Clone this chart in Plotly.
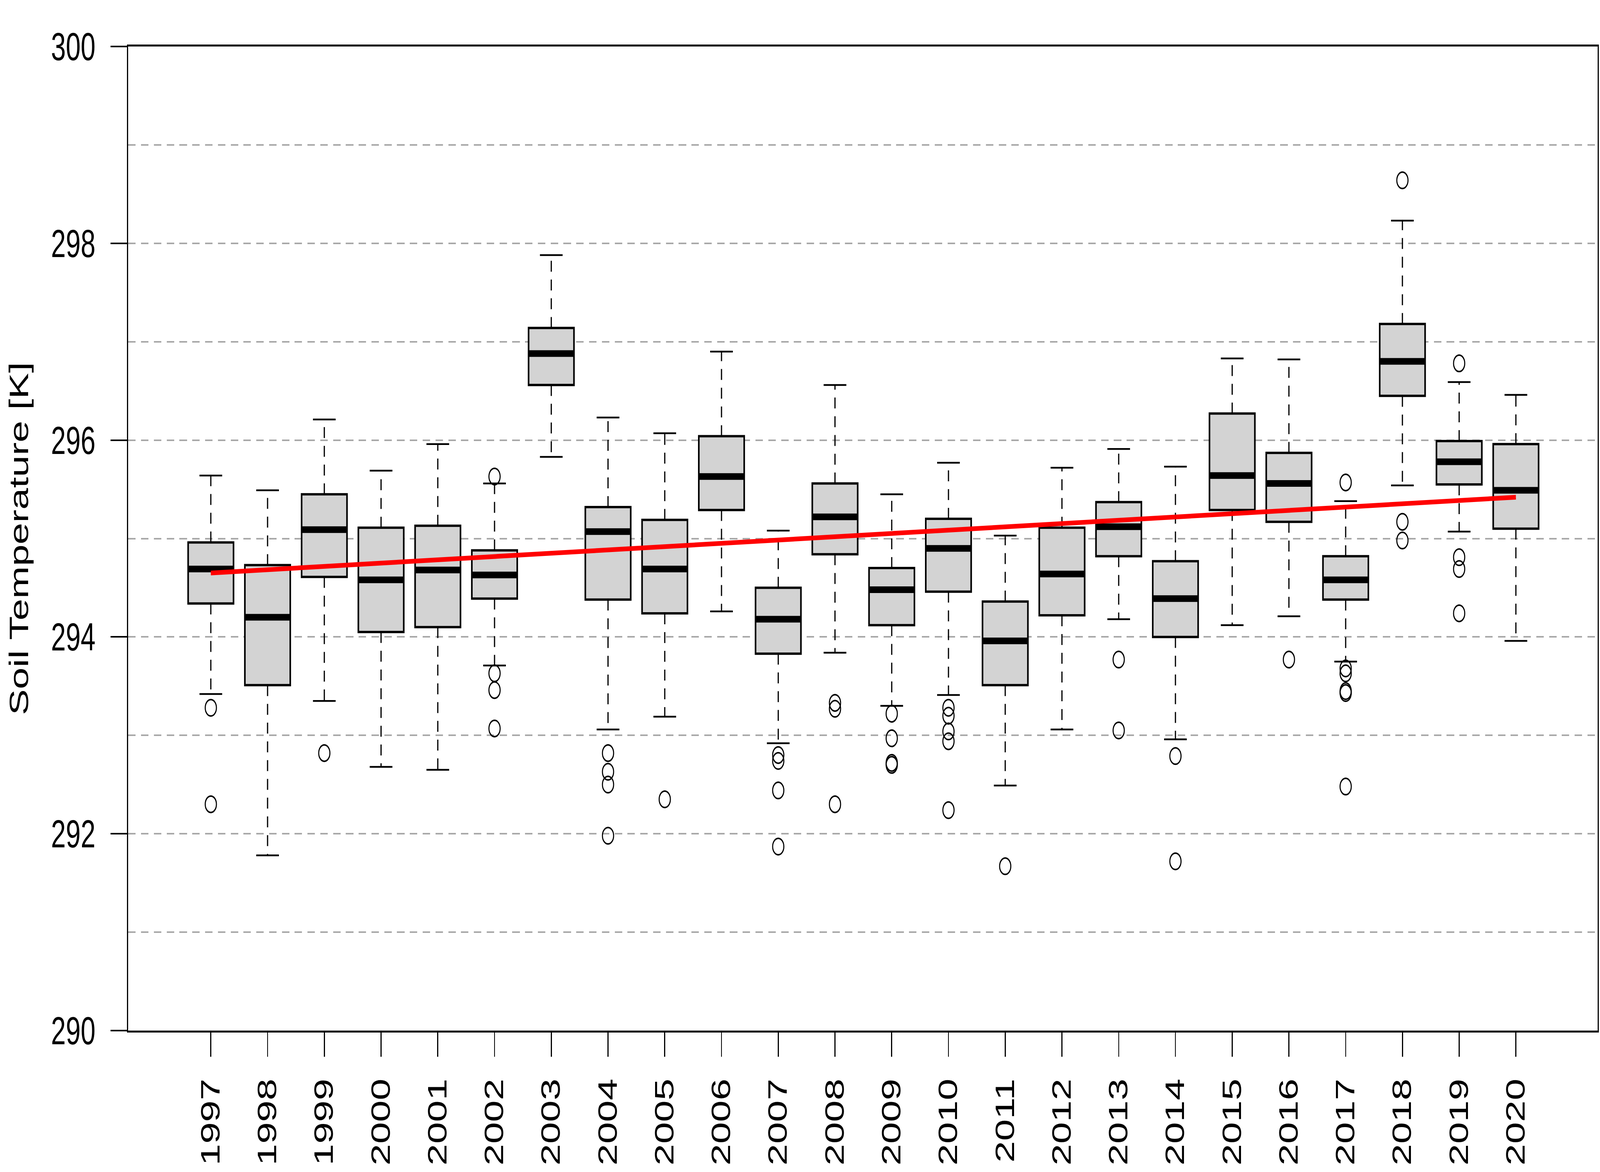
import plotly.graph_objects as go

# ---------------- data ----------------
years = list(range(1997, 2021))
year_labels = [str(y) for y in years]

whisker_low = [293.42, 291.78, 293.35, 292.68, 292.65, 293.71, 295.83, 293.06,
               293.19, 294.26, 292.92, 293.84, 293.30, 293.41, 292.49, 293.06,
               294.18, 292.96, 294.12, 294.21, 293.75, 295.54, 295.07, 293.96]
q1 = [294.34, 293.51, 294.61, 294.05, 294.10, 294.39, 296.56, 294.38,
      294.24, 295.29, 293.83, 294.84, 294.12, 294.46, 293.51, 294.22,
      294.82, 294.00, 295.29, 295.17, 294.38, 296.45, 295.55, 295.10]
median = [294.69, 294.20, 295.09, 294.58, 294.68, 294.63, 296.88, 295.07,
          294.69, 295.63, 294.18, 295.22, 294.48, 294.90, 293.96, 294.64,
          295.12, 294.39, 295.64, 295.56, 294.58, 296.80, 295.78, 295.49]
q3 = [294.96, 294.73, 295.45, 295.11, 295.13, 294.88, 297.14, 295.32,
      295.19, 296.04, 294.50, 295.56, 294.70, 295.20, 294.36, 295.11,
      295.37, 294.77, 296.27, 295.87, 294.82, 297.18, 295.99, 295.96]
whisker_high = [295.64, 295.49, 296.21, 295.69, 295.96, 295.56, 297.88, 296.23,
                296.07, 296.90, 295.08, 296.56, 295.45, 295.77, 295.03, 295.72,
                295.91, 295.73, 296.83, 296.82, 295.38, 298.23, 296.59, 296.46]
outliers = [
    [293.28, 292.30],
    [],
    [292.82],
    [],
    [],
    [295.63, 293.63, 293.46, 293.07],
    [],
    [292.82, 292.63, 292.50, 291.98],
    [292.35],
    [],
    [292.80, 292.74, 292.44, 291.87],
    [293.33, 293.27, 292.30],
    [293.22, 292.97, 292.72, 292.70],
    [293.28, 293.20, 293.04, 292.94, 292.24],
    [291.67],
    [],
    [293.77, 293.05],
    [292.79, 291.72],
    [],
    [293.77],
    [295.57, 293.68, 293.63, 293.45, 293.43, 292.48],
    [298.64, 295.17, 294.98],
    [296.78, 294.81, 294.69, 294.24],
    [],
]
trend_years = [1997, 2020]
trend_values = [294.65, 295.42]

y_ticks = [290, 292, 294, 296, 298, 300]
y_title = "Soil Temperature [K]"

# ---------------- style ----------------
FONT = "Liberation Sans, Arial, sans-serif"
BOX_W = 0.8
CAP_W = 0.4
BLACK = "#000000"
W, H = 6000, 3000

fig = go.Figure()

# boxes (q1..q3)
fig.add_trace(go.Bar(
    x=years, base=q1, y=[b - a for a, b in zip(q1, q3)], width=BOX_W,
    marker=dict(color="#D3D3D3", line=dict(color=BLACK, width=6)),
    hoverinfo="skip", showlegend=False,
))

# whiskers (dashed)
wx, wy = [], []
for x, lo, a, b, hi in zip(years, whisker_low, q1, q3, whisker_high):
    wx += [x, x, None, x, x, None]
    wy += [a, lo, None, b, hi, None]
fig.add_trace(go.Scatter(x=wx, y=wy, mode="lines",
                         line=dict(color=BLACK, width=4.5, dash="28px,20px"),
                         hoverinfo="skip", showlegend=False))

# staples (caps)
cx, cy = [], []
for x, lo, hi in zip(years, whisker_low, whisker_high):
    cx += [x - CAP_W / 2, x + CAP_W / 2, None, x - CAP_W / 2, x + CAP_W / 2, None]
    cy += [lo, lo, None, hi, hi, None]
fig.add_trace(go.Scatter(x=cx, y=cy, mode="lines",
                         line=dict(color=BLACK, width=4.5),
                         hoverinfo="skip", showlegend=False))

# medians (thick)
mx, my = [], []
for x, m in zip(years, median):
    mx += [x - BOX_W / 2, x + BOX_W / 2, None]
    my += [m, m, None]
fig.add_trace(go.Scatter(x=mx, y=my, mode="lines",
                         line=dict(color=BLACK, width=17),
                         hoverinfo="skip", showlegend=False))

# outliers
ox, oy = [], []
for x, outs in zip(years, outliers):
    for v in outs:
        ox.append(x)
        oy.append(v)
fig.add_trace(go.Scatter(x=ox, y=oy, mode="markers",
                         marker=dict(symbol="circle-open", size=42, color=BLACK,
                                     line=dict(color=BLACK, width=4)),
                         hoverinfo="skip", showlegend=False))

# trend line
fig.add_trace(go.Scatter(x=trend_years, y=trend_values, mode="lines",
                         line=dict(color="#FF0000", width=12),
                         hoverinfo="skip", showlegend=False))

fig.update_layout(
    width=W, height=H,
    margin=dict(l=481, r=4, t=119, b=362, pad=0),
    paper_bgcolor="white", plot_bgcolor="white",
    font=dict(family=FONT, size=100, color=BLACK),
    showlegend=False,
    bargap=0,
)

fig.update_xaxes(
    range=[1995.545, 2021.44],
    tickmode="array", tickvals=years, ticktext=year_labels,
    tickangle=-90,
    ticks="outside", ticklen=62, tickwidth=4, tickcolor=BLACK,
    ticklabelstandoff=16,
    tickfont=dict(family=FONT, size=100, color=BLACK),
    showline=True, linecolor=BLACK, linewidth=5, mirror=True,
    showgrid=False, zeroline=False,
)

fig.update_yaxes(
    range=[290, 300],
    tickmode="array", tickvals=y_ticks, ticktext=[str(v) for v in y_ticks],
    ticks="outside", ticklen=62, tickwidth=4, tickcolor=BLACK,
    ticklabelstandoff=36,
    tickfont=dict(family=FONT, size=100, color=BLACK),
    showline=True, linecolor=BLACK, linewidth=5, mirror=True,
    showgrid=True, gridcolor="#A8A8A8", gridwidth=4, griddash="28px,20px",
    minor=dict(dtick=1, tick0=290, showgrid=True, gridcolor="#A8A8A8",
               gridwidth=4, griddash="28px,20px", ticks=""),
    zeroline=False,
)

fig.add_annotation(
    text=y_title, textangle=-90,
    xref="paper", yref="paper", x=(69 - 481) / 5515, y=0.5,
    xanchor="center", yanchor="middle", showarrow=False,
    font=dict(family=FONT, size=100, color=BLACK),
)

# Fit the 6000x3000 figure into whatever viewport the browser really has.
post = """
document.documentElement.style.margin='0';
document.documentElement.style.overflow='hidden';
document.body.style.margin='0';
document.body.style.overflow='hidden';
var gd = document.getElementById('{plot_id}');
var sx = window.innerWidth / %d, sy = window.innerHeight / %d;
gd.style.transformOrigin = '0 0';
gd.style.transform = 'scale(' + sx + ',' + sy + ')';
""" % (W, H)

fig.write_html("out.html", post_script=post,
               config={"displayModeBar": False, "staticPlot": True})
